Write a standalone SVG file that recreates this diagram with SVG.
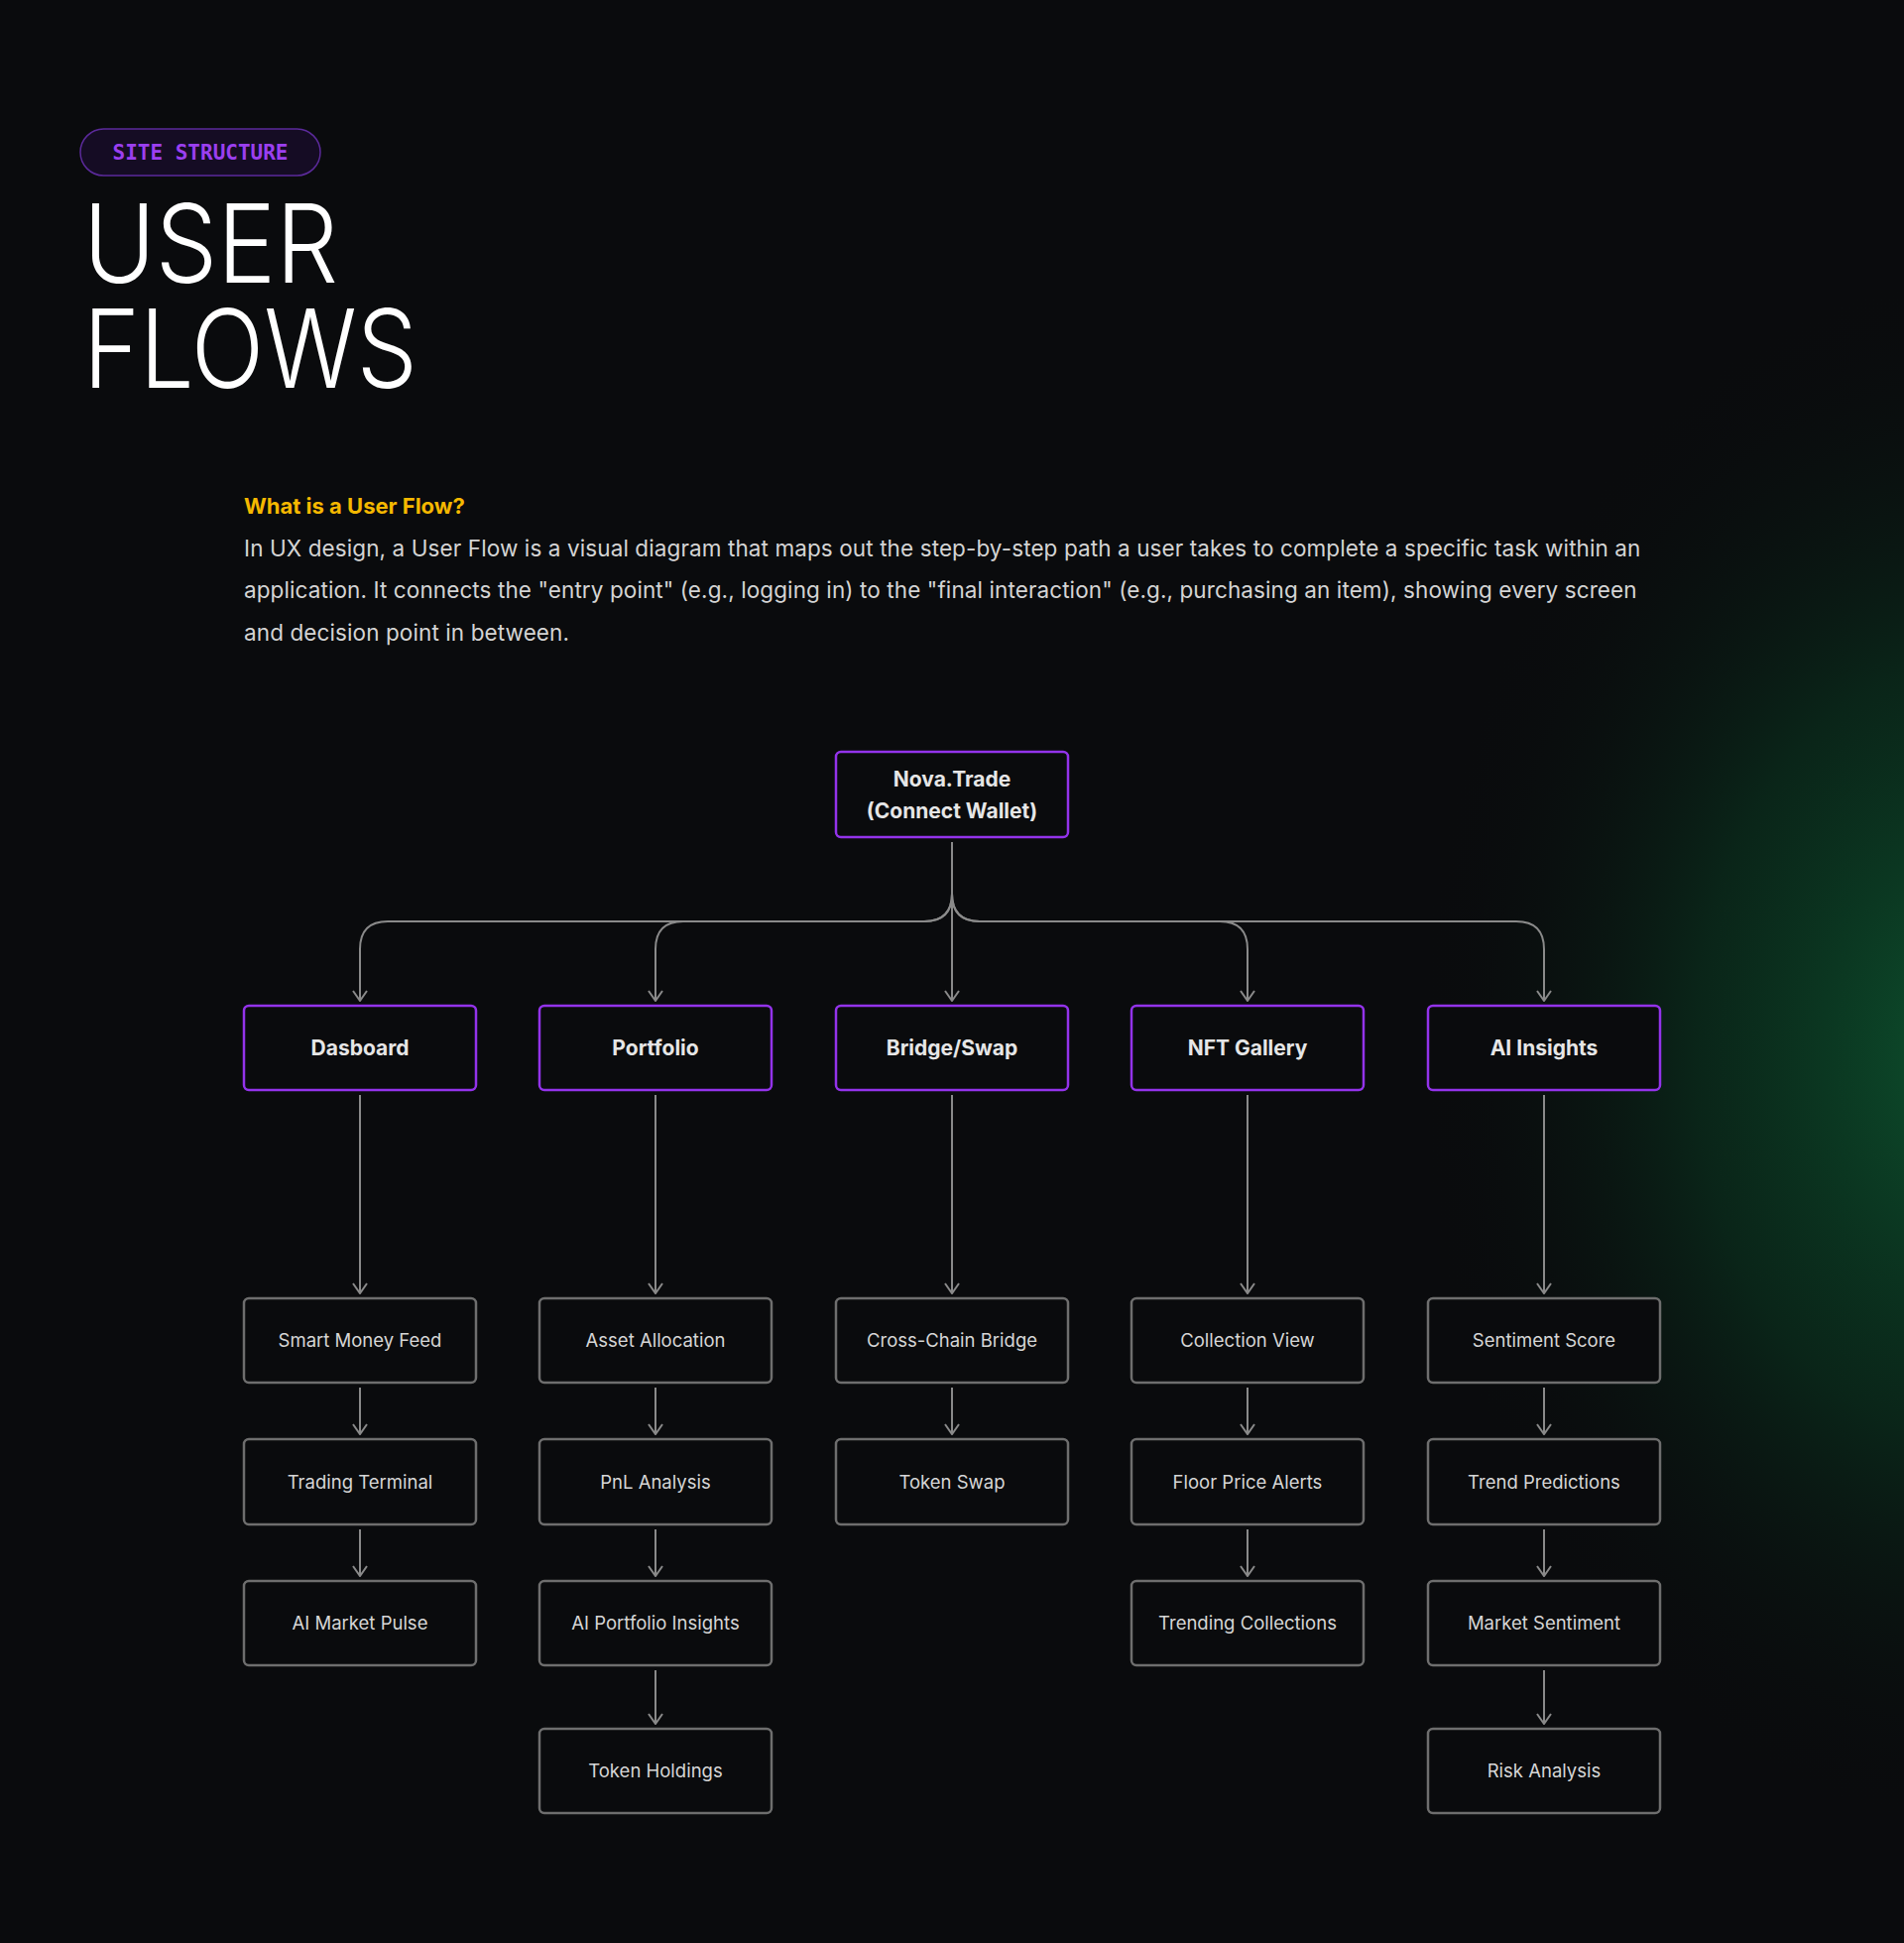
<svg xmlns="http://www.w3.org/2000/svg" width="1920" height="1959" viewBox="0 0 1920 1959">
<defs>
<radialGradient id="glow" cx="1990" cy="1060" r="560" gradientUnits="userSpaceOnUse" gradientTransform="translate(1990 1060) scale(1 1.4) translate(-1990 -1060)">
<stop offset="0" stop-color="#0d5a32" stop-opacity="0.9"/>
<stop offset="0.5" stop-color="#0a3a22" stop-opacity="0.55"/>
<stop offset="1" stop-color="#0a0b0d" stop-opacity="0"/>
</radialGradient>
<marker id="arr" viewBox="0 0 12 16" refX="11" refY="8" markerWidth="12" markerHeight="16" markerUnits="userSpaceOnUse" orient="auto">
<path d="M1 1 L11 8 L1 15" fill="none" stroke="#8a8a8a" stroke-width="2"/>
</marker>
<style>
.main{fill:#0a0b0d;stroke:#9333ea;stroke-width:2.5}
.sub{fill:#0a0b0d;stroke:#6e6e6e;stroke-width:2.5}
.mt{font-family:Inter,"Liberation Sans",sans-serif;font-size:21px;font-weight:700;fill:#e6e6e6;text-anchor:middle}
.st{font-family:Inter,"Liberation Sans",sans-serif;font-size:18.5px;fill:#d6d6d6;text-anchor:middle}
.c{fill:none;stroke:#8a8a8a;stroke-width:2}
.para{font-family:Inter,"Liberation Sans",sans-serif;font-size:22.5px;fill:#d4d4d4;letter-spacing:0.1px}
.title{font-family:Inter,"Liberation Sans",sans-serif;font-size:110px;font-weight:300;fill:#ffffff}
</style>
</defs>
<rect width="1920" height="1959" fill="#0a0b0d"/>
<rect width="1920" height="1959" fill="url(#glow)"/>
<rect x="81" y="130" width="242" height="47" rx="23.5" fill="#150c24" stroke="#5b2a9a" stroke-width="1.5"/>
<text x="202" y="161" text-anchor="middle" font-family="'DejaVu Sans Mono','Liberation Mono',monospace" font-size="21" font-weight="700" fill="#9b3ff0">SITE STRUCTURE</text>
<text class="title" x="84" y="285" textLength="257" lengthAdjust="spacingAndGlyphs">USER</text>
<text class="title" x="84" y="391" textLength="337" lengthAdjust="spacingAndGlyphs">FLOWS</text>
<text x="246" y="518" font-family="Inter,'Liberation Sans',sans-serif" font-size="22" font-weight="700" fill="#f5b800">What is a User Flow?</text>
<text class="para" x="246" y="561">In UX design, a User Flow is a visual diagram that maps out the step-by-step path a user takes to complete a specific task within an</text>
<text class="para" x="246" y="603">application. It connects the "entry point" (e.g., logging in) to the "final interaction" (e.g., purchasing an item), showing every screen</text>
<text class="para" x="246" y="646">and decision point in between.</text>
<g id="connectors">
<path class="c" d="M960 849 V901 Q960 929 932 929 H391 Q363 929 363 957 V1009" marker-end="url(#arr)"/>
<path class="c" d="M960 901 Q960 929 932 929 H689 Q661 929 661 957 V1009" marker-end="url(#arr)"/>
<path class="c" d="M960 849 V1009" marker-end="url(#arr)"/>
<path class="c" d="M960 901 Q960 929 988 929 H1230 Q1258 929 1258 957 V1009" marker-end="url(#arr)"/>
<path class="c" d="M960 901 Q960 929 988 929 H1529 Q1557 929 1557 957 V1009" marker-end="url(#arr)"/>
<path class="c" d="M363 1104 V1304" marker-end="url(#arr)"/>
<path class="c" d="M661 1104 V1304" marker-end="url(#arr)"/>
<path class="c" d="M960 1104 V1304" marker-end="url(#arr)"/>
<path class="c" d="M1258 1104 V1304" marker-end="url(#arr)"/>
<path class="c" d="M1557 1104 V1304" marker-end="url(#arr)"/>
<path class="c" d="M363 1399 V1446" marker-end="url(#arr)"/>
<path class="c" d="M661 1399 V1446" marker-end="url(#arr)"/>
<path class="c" d="M960 1399 V1446" marker-end="url(#arr)"/>
<path class="c" d="M1258 1399 V1446" marker-end="url(#arr)"/>
<path class="c" d="M1557 1399 V1446" marker-end="url(#arr)"/>
<path class="c" d="M363 1542 V1589" marker-end="url(#arr)"/>
<path class="c" d="M661 1542 V1589" marker-end="url(#arr)"/>
<path class="c" d="M1258 1542 V1589" marker-end="url(#arr)"/>
<path class="c" d="M1557 1542 V1589" marker-end="url(#arr)"/>
<path class="c" d="M661 1684 V1738" marker-end="url(#arr)"/>
<path class="c" d="M1557 1684 V1738" marker-end="url(#arr)"/>
</g>
<g id="nova"><rect class="main" x="843" y="758" width="234" height="86" rx="5"/><text class="mt" x="960" y="793">Nova.Trade</text><text class="mt" x="960" y="825">(Connect Wallet)</text></g>
<g id="dashboard"><rect class="main" x="246" y="1014" width="234" height="85" rx="5"/><text class="mt" x="363" y="1064">Dasboard</text></g>
<g id="portfolio"><rect class="main" x="544" y="1014" width="234" height="85" rx="5"/><text class="mt" x="661" y="1064">Portfolio</text></g>
<g id="bridge"><rect class="main" x="843" y="1014" width="234" height="85" rx="5"/><text class="mt" x="960" y="1064">Bridge/Swap</text></g>
<g id="nft"><rect class="main" x="1141" y="1014" width="234" height="85" rx="5"/><text class="mt" x="1258" y="1064">NFT Gallery</text></g>
<g id="ai"><rect class="main" x="1440" y="1014" width="234" height="85" rx="5"/><text class="mt" x="1557" y="1064">AI Insights</text></g>
<g id="smf"><rect class="sub" x="246" y="1309" width="234" height="85" rx="5"/><text class="st" x="363" y="1358">Smart Money Feed</text></g>
<g id="tt"><rect class="sub" x="246" y="1451" width="234" height="86" rx="5"/><text class="st" x="363" y="1501">Trading Terminal</text></g>
<g id="amp"><rect class="sub" x="246" y="1594" width="234" height="85" rx="5"/><text class="st" x="363" y="1643">AI Market Pulse</text></g>
<g id="aa"><rect class="sub" x="544" y="1309" width="234" height="85" rx="5"/><text class="st" x="661" y="1358">Asset Allocation</text></g>
<g id="pnl"><rect class="sub" x="544" y="1451" width="234" height="86" rx="5"/><text class="st" x="661" y="1501">PnL Analysis</text></g>
<g id="api"><rect class="sub" x="544" y="1594" width="234" height="85" rx="5"/><text class="st" x="661" y="1643">AI Portfolio Insights</text></g>
<g id="th"><rect class="sub" x="544" y="1743" width="234" height="85" rx="5"/><text class="st" x="661" y="1792">Token Holdings</text></g>
<g id="ccb"><rect class="sub" x="843" y="1309" width="234" height="85" rx="5"/><text class="st" x="960" y="1358">Cross-Chain Bridge</text></g>
<g id="ts"><rect class="sub" x="843" y="1451" width="234" height="86" rx="5"/><text class="st" x="960" y="1501">Token Swap</text></g>
<g id="cv"><rect class="sub" x="1141" y="1309" width="234" height="85" rx="5"/><text class="st" x="1258" y="1358">Collection View</text></g>
<g id="fpa"><rect class="sub" x="1141" y="1451" width="234" height="86" rx="5"/><text class="st" x="1258" y="1501">Floor Price Alerts</text></g>
<g id="tc"><rect class="sub" x="1141" y="1594" width="234" height="85" rx="5"/><text class="st" x="1258" y="1643">Trending Collections</text></g>
<g id="ss"><rect class="sub" x="1440" y="1309" width="234" height="85" rx="5"/><text class="st" x="1557" y="1358">Sentiment Score</text></g>
<g id="tp"><rect class="sub" x="1440" y="1451" width="234" height="86" rx="5"/><text class="st" x="1557" y="1501">Trend Predictions</text></g>
<g id="ms"><rect class="sub" x="1440" y="1594" width="234" height="85" rx="5"/><text class="st" x="1557" y="1643">Market Sentiment</text></g>
<g id="ra"><rect class="sub" x="1440" y="1743" width="234" height="85" rx="5"/><text class="st" x="1557" y="1792">Risk Analysis</text></g>
</svg>
